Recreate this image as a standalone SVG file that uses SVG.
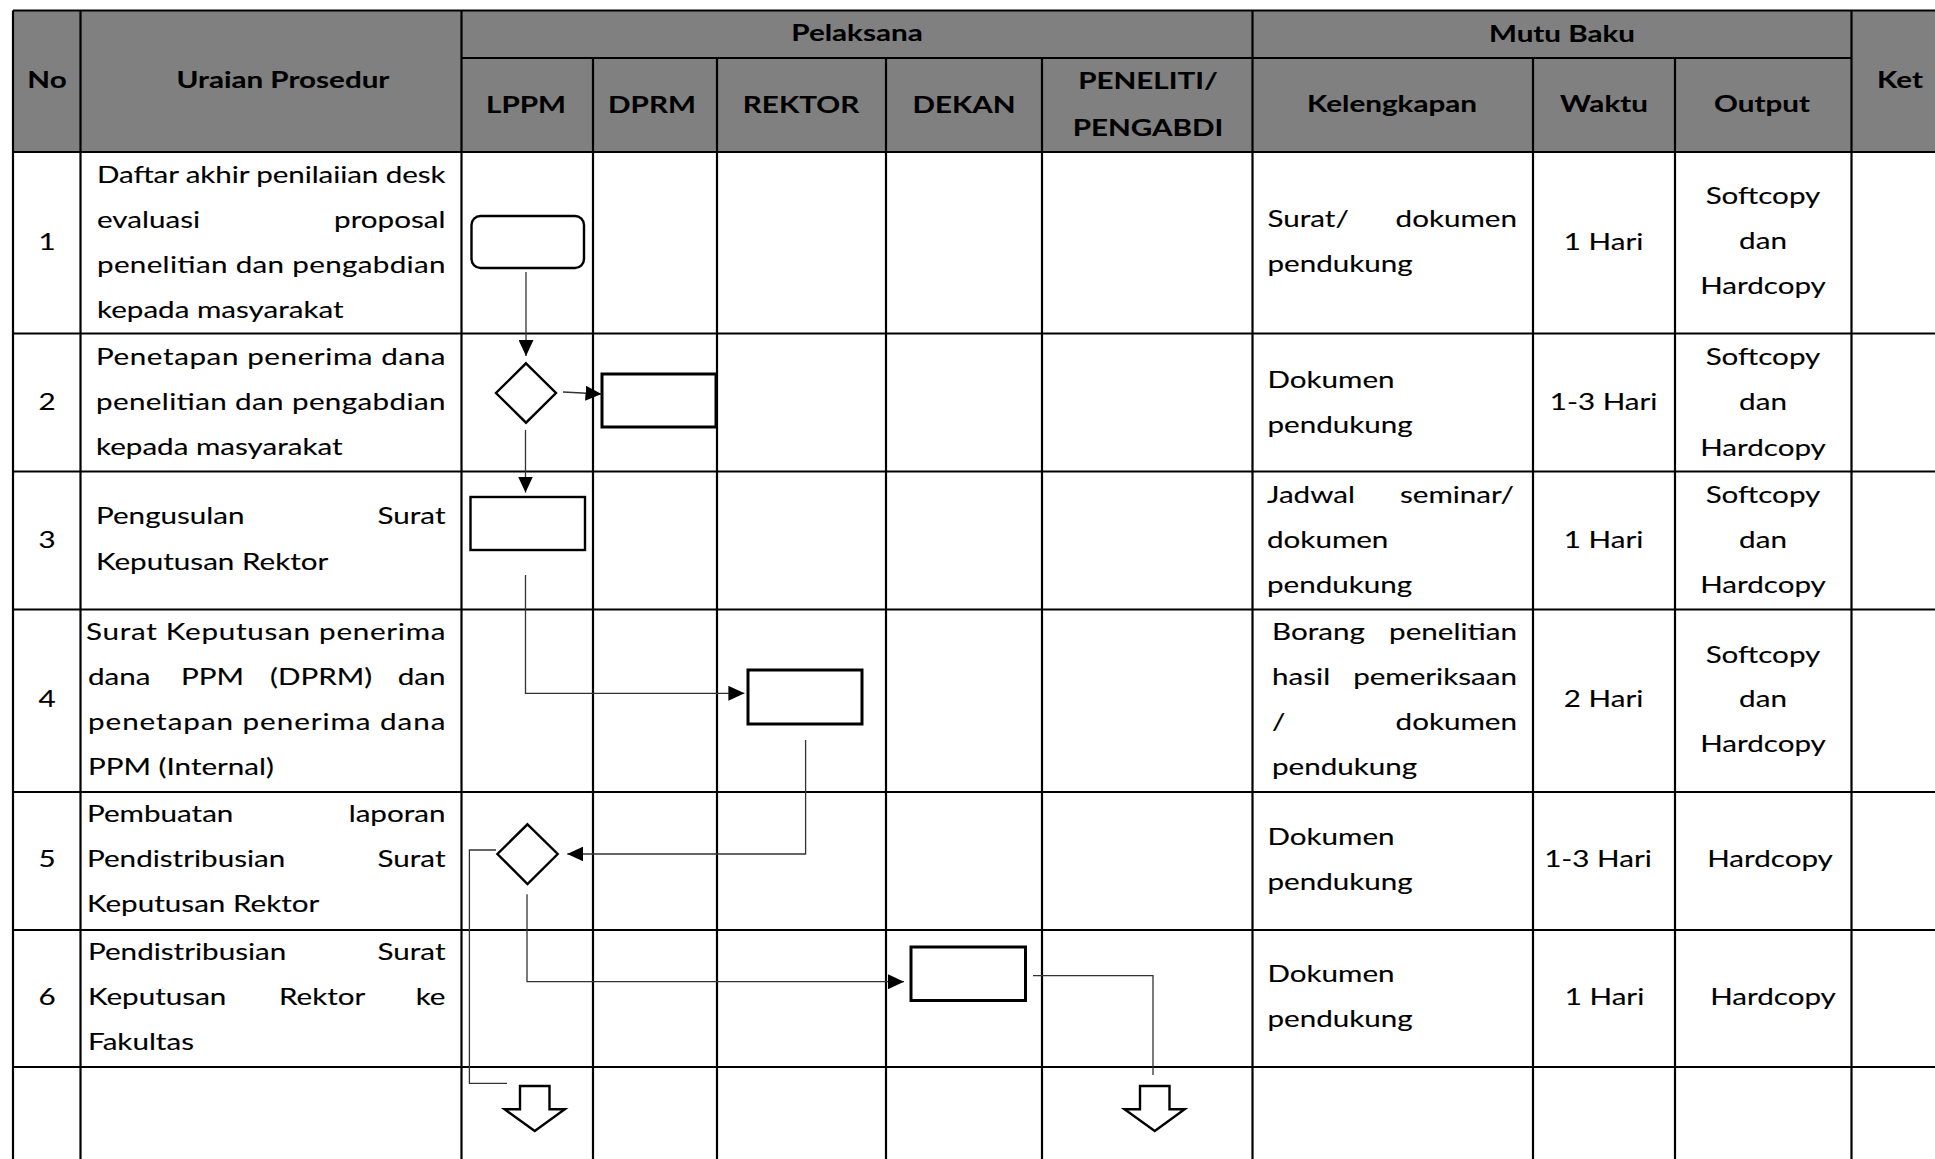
<svg xmlns="http://www.w3.org/2000/svg" width="1935" height="1159" viewBox="0 0 1935 1159">
<defs>
<style>
.t{font-family:Lato,"Liberation Sans",sans-serif;font-size:23.5px;fill:#000;stroke:#000;stroke-width:0.12}
.b{font-weight:700;stroke-width:0.1}
.m{text-anchor:middle}
.e{text-anchor:end}
.grid{stroke:#000;stroke-width:2.2;fill:none}
.node{fill:#fff;stroke:#000;stroke-width:2.4}
.thick{stroke-width:3}
.conn{fill:none;stroke:#333;stroke-width:1.3}
</style>
<marker id="ah" markerUnits="userSpaceOnUse" markerWidth="16" markerHeight="15" refX="16" refY="7.5" orient="auto">
<path d="M0,0 L16,7.5 L0,15 z" fill="#000"/>
</marker>
</defs>
<rect width="1935" height="1159" fill="#fff"/>
<g id="table">
<rect x="13" y="10.5" width="1922" height="141.5" fill="#808080"/>
<path class="grid" d="M13,10.5H1935 M461.5,58H1851.5 M13,152H1935 M13,333.5H1935 M13,471.5H1935 M13,609.5H1935 M13,792H1935 M13,930H1935 M13,1067H1935 M13,10.5V1159 M80.5,10.5V1159 M461.5,10.5V1159 M593,58V1159 M717,58V1159 M886,58V1159 M1042,58V1159 M1252.5,10.5V1159 M1533,58V1159 M1675,58V1159 M1851.5,10.5V1159"/>
</g>
<g id="header">
<text class="t b m" transform="translate(47 88) scale(1.26 1)">No</text>
<text class="t b m" transform="translate(283 88) scale(1.26 1)">Uraian Prosedur</text>
<text class="t b m" transform="translate(857 41) scale(1.26 1)">Pelaksana</text>
<text class="t b m" transform="translate(1562 41.5) scale(1.26 1)">Mutu Baku</text>
<text class="t b m" transform="translate(526 113) scale(1.26 1)">LPPM</text>
<text class="t b m" transform="translate(652 113) scale(1.26 1)">DPRM</text>
<text class="t b m" transform="translate(801 113) scale(1.26 1)">REKTOR</text>
<text class="t b m" transform="translate(964 113) scale(1.26 1)">DEKAN</text>
<text class="t b m" transform="translate(1148 89) scale(1.26 1)">PENELITI/</text>
<text class="t b m" transform="translate(1148 136) scale(1.26 1)">PENGABDI</text>
<text class="t b m" transform="translate(1392 112) scale(1.26 1)">Kelengkapan</text>
<text class="t b m" transform="translate(1604 112) scale(1.26 1)">Waktu</text>
<text class="t b m" transform="translate(1762 112) scale(1.26 1)">Output</text>
<text class="t b m" transform="translate(1900 88) scale(1.26 1)">Ket</text>
</g>
<g id="numbers">
<text class="t m" transform="translate(47 250) scale(1.26 1)">1</text>
<text class="t m" transform="translate(47 410) scale(1.26 1)">2</text>
<text class="t m" transform="translate(47 548) scale(1.26 1)">3</text>
<text class="t m" transform="translate(47 707) scale(1.26 1)">4</text>
<text class="t m" transform="translate(47 867) scale(1.26 1)">5</text>
<text class="t m" transform="translate(47 1005) scale(1.26 1)">6</text>
</g>
<g id="uraian">
<text class="t" transform="translate(97 183) scale(1.26 1)" textLength="276.6" lengthAdjust="spacing">Daftar akhir penilaiian desk</text>
<text class="t" transform="translate(97 228) scale(1.26 1)">evaluasi</text>
<text class="t e" transform="translate(445.5 228) scale(1.26 1)">proposal</text>
<text class="t" transform="translate(97 273) scale(1.26 1)" textLength="276.6" lengthAdjust="spacing">penelitian dan pengabdian</text>
<text class="t" transform="translate(97 318) scale(1.26 1)">kepada masyarakat</text>

<text class="t" transform="translate(96 365) scale(1.26 1)" textLength="277.4" lengthAdjust="spacing">Penetapan penerima dana</text>
<text class="t" transform="translate(96 410) scale(1.26 1)" textLength="277.4" lengthAdjust="spacing">penelitian dan pengabdian</text>
<text class="t" transform="translate(96 455) scale(1.26 1)">kepada masyarakat</text>

<text class="t" transform="translate(96 524) scale(1.26 1)">Pengusulan</text>
<text class="t e" transform="translate(445.5 524) scale(1.26 1)">Surat</text>
<text class="t" transform="translate(96 570) scale(1.26 1)">Keputusan Rektor</text>

<text class="t" transform="translate(86 640) scale(1.26 1)" textLength="285.3" lengthAdjust="spacing">Surat Keputusan penerima</text>
<text class="t" transform="translate(88 685) scale(1.26 1)">dana</text>
<text class="t" transform="translate(181 685) scale(1.26 1)">PPM</text>
<text class="t" transform="translate(270 685) scale(1.26 1)">(DPRM)</text>
<text class="t e" transform="translate(445.5 685) scale(1.26 1)">dan</text>
<text class="t" transform="translate(88 730) scale(1.26 1)" textLength="283.7" lengthAdjust="spacing">penetapan penerima dana</text>
<text class="t" transform="translate(88 775) scale(1.26 1)">PPM (Internal)</text>

<text class="t" transform="translate(87 822) scale(1.26 1)">Pembuatan</text>
<text class="t e" transform="translate(445.5 822) scale(1.26 1)">laporan</text>
<text class="t" transform="translate(87 867) scale(1.26 1)">Pendistribusian</text>
<text class="t e" transform="translate(445.5 867) scale(1.26 1)">Surat</text>
<text class="t" transform="translate(87 912) scale(1.26 1)">Keputusan Rektor</text>

<text class="t" transform="translate(88 960) scale(1.26 1)">Pendistribusian</text>
<text class="t e" transform="translate(445.5 960) scale(1.26 1)">Surat</text>
<text class="t" transform="translate(88 1005) scale(1.26 1)">Keputusan</text>
<text class="t" transform="translate(279 1005) scale(1.26 1)">Rektor</text>
<text class="t e" transform="translate(445.5 1005) scale(1.26 1)">ke</text>
<text class="t" transform="translate(88 1050) scale(1.26 1)">Fakultas</text>
</g>
<g id="kelengkapan">
<text class="t" transform="translate(1267.5 227) scale(1.26 1)">Surat/</text>
<text class="t e" transform="translate(1517 227) scale(1.26 1)">dokumen</text>
<text class="t" transform="translate(1267.5 272) scale(1.26 1)">pendukung</text>
<text class="t" transform="translate(1267.5 388) scale(1.26 1)">Dokumen</text>
<text class="t" transform="translate(1267.5 433) scale(1.26 1)">pendukung</text>
<text class="t" transform="translate(1267 503) scale(1.26 1)">Jadwal</text>
<text class="t e" transform="translate(1514 503) scale(1.26 1)">seminar/</text>
<text class="t" transform="translate(1267 548) scale(1.26 1)">dokumen</text>
<text class="t" transform="translate(1267 593) scale(1.26 1)">pendukung</text>
<text class="t" transform="translate(1272 640) scale(1.26 1)">Borang</text>
<text class="t e" transform="translate(1517 640) scale(1.26 1)">penelitian</text>
<text class="t" transform="translate(1272 685) scale(1.26 1)">hasil</text>
<text class="t e" transform="translate(1517 685) scale(1.26 1)">pemeriksaan</text>
<text class="t" transform="translate(1272 730) scale(1.26 1)">/</text>
<text class="t e" transform="translate(1517 730) scale(1.26 1)">dokumen</text>
<text class="t" transform="translate(1272 775) scale(1.26 1)">pendukung</text>
<text class="t" transform="translate(1267.5 845) scale(1.26 1)">Dokumen</text>
<text class="t" transform="translate(1267.5 890) scale(1.26 1)">pendukung</text>
<text class="t" transform="translate(1267.5 982) scale(1.26 1)">Dokumen</text>
<text class="t" transform="translate(1267.5 1027) scale(1.26 1)">pendukung</text>
</g>
<g id="waktu">
<text class="t m" transform="translate(1603.6 250) scale(1.26 1)">1 Hari</text>
<text class="t m" transform="translate(1603.6 410) scale(1.26 1)">1-3 Hari</text>
<text class="t m" transform="translate(1603.6 548) scale(1.26 1)">1 Hari</text>
<text class="t m" transform="translate(1603.6 707) scale(1.26 1)">2 Hari</text>
<text class="t m" transform="translate(1598 867) scale(1.26 1)">1-3 Hari</text>
<text class="t m" transform="translate(1604.5 1005) scale(1.26 1)">1 Hari</text>
</g>
<g id="output">
<text class="t m" transform="translate(1763 204) scale(1.26 1)">Softcopy</text>
<text class="t m" transform="translate(1763 249) scale(1.26 1)">dan</text>
<text class="t m" transform="translate(1763 294) scale(1.26 1)">Hardcopy</text>
<text class="t m" transform="translate(1763 365) scale(1.26 1)">Softcopy</text>
<text class="t m" transform="translate(1763 410) scale(1.26 1)">dan</text>
<text class="t m" transform="translate(1763 456) scale(1.26 1)">Hardcopy</text>
<text class="t m" transform="translate(1763 503) scale(1.26 1)">Softcopy</text>
<text class="t m" transform="translate(1763 548) scale(1.26 1)">dan</text>
<text class="t m" transform="translate(1763 593) scale(1.26 1)">Hardcopy</text>
<text class="t m" transform="translate(1763 663) scale(1.26 1)">Softcopy</text>
<text class="t m" transform="translate(1763 707) scale(1.26 1)">dan</text>
<text class="t m" transform="translate(1763 752) scale(1.26 1)">Hardcopy</text>
<text class="t m" transform="translate(1770 867) scale(1.26 1)">Hardcopy</text>
<text class="t m" transform="translate(1773 1005) scale(1.26 1)">Hardcopy</text>
</g>
<g id="n1"><rect class="node" x="471.5" y="216" width="112.5" height="52" rx="9"/></g>
<g id="n2"><polygon class="node" points="526,363.3 556,393 526,422.7 496,393"/></g>
<g id="n3"><rect class="node thick" x="602" y="374" width="114" height="53"/></g>
<g id="n4"><rect class="node" x="470.5" y="497" width="114.5" height="53"/></g>
<g id="n5"><rect class="node thick" x="748" y="670" width="114" height="54"/></g>
<g id="n6"><polygon class="node" points="527.5,824.3 557.7,854 527.5,884 497.4,854"/></g>
<g id="n7"><rect class="node thick" x="911" y="947" width="114.5" height="53.5"/></g>
<g id="n8"><polygon class="node" points="520,1086 549.5,1086 549.5,1109.3 564.8,1109.3 534.75,1131 504.6,1109.3 520,1109.3"/></g>
<g id="n9"><polygon class="node" points="1140,1086 1169.5,1086 1169.5,1109.3 1184.7,1109.3 1154.75,1131 1124.5,1109.3 1140,1109.3"/></g>
<g id="connectors">
<path class="conn" d="M526,272 V356" marker-end="url(#ah)"/>
<path class="conn" d="M563,392 L601.5,394" marker-end="url(#ah)"/>
<path class="conn" d="M525.5,430 V492.5" marker-end="url(#ah)"/>
<path class="conn" d="M525.5,575 V693.3 H744.4" marker-end="url(#ah)"/>
<path class="conn" d="M805.6,740 V854 H567.3" marker-end="url(#ah)"/>
<path class="conn" d="M496,850 H469.4 V1083.3 H507"/>
<path class="conn" d="M527,894.3 V981.7 H904" marker-end="url(#ah)"/>
<path class="conn" d="M1033,975.7 H1153 V1075"/>
</g>
</svg>
